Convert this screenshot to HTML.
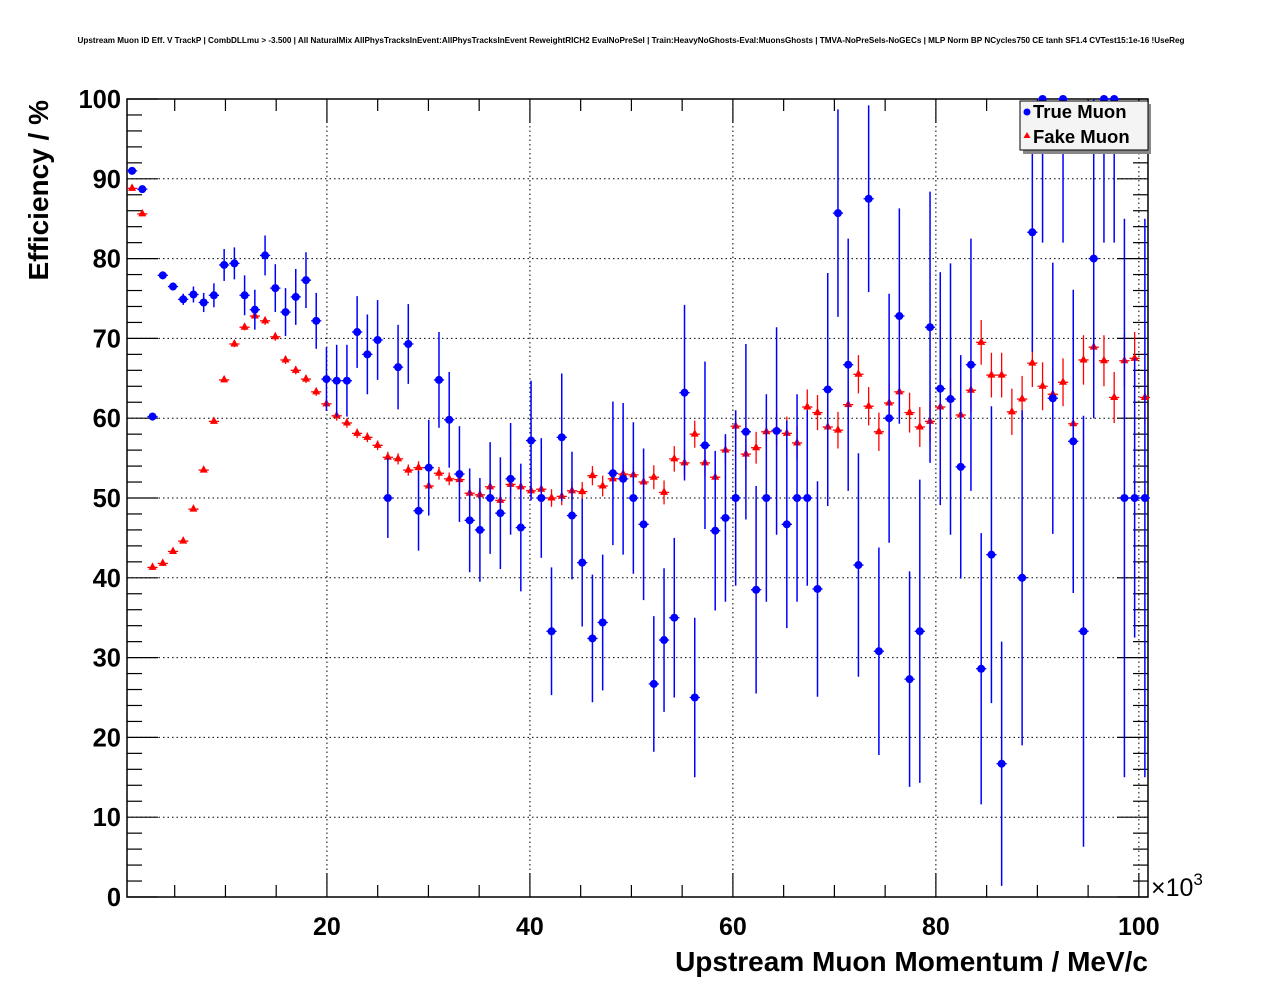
<!DOCTYPE html>
<html><head><meta charset="utf-8"><style>
html,body{margin:0;padding:0;background:#fff;}
svg{display:block;font-family:"Liberation Sans",Arial,sans-serif;}
</style></head><body>
<svg id="chart" width="1276" height="996" viewBox="0 0 1276 996" xmlns="http://www.w3.org/2000/svg">
<rect x="0" y="0" width="1276" height="996" fill="#fff"/>
<text x="631" y="43" font-size="8.15" font-weight="bold" text-anchor="middle" textLength="1107" lengthAdjust="spacingAndGlyphs">Upstream Muon ID Eff. V TrackP | CombDLLmu &gt; -3.500 | All NaturalMix AllPhysTracksInEvent:AllPhysTracksInEvent ReweightRICH2 EvalNoPreSel | Train:HeavyNoGhosts-Eval:MuonsGhosts | TMVA-NoPreSels-NoGECs | MLP Norm BP NCycles750 CE tanh SF1.4 CVTest15:1e-16 !UseReg</text>
<g id="grid"></g>
<g id="axes"></g>
<g id="marks"></g>
<text transform="translate(48,100) rotate(-90)" font-size="28" font-weight="bold" text-anchor="end">Efficiency / %</text>
<text x="1148" y="971" font-size="28" font-weight="bold" text-anchor="end">Upstream Muon Momentum / MeV/c</text>
<text x="1151" y="896" font-size="25" font-weight="normal">×10<tspan font-size="17" dy="-11">3</tspan></text>
<g>
<rect x="1023" y="104" width="128" height="50" fill="#888"/>
<rect x="1020" y="101" width="128" height="49" fill="#f4f4f4" stroke="#000" stroke-width="1"/>
<circle cx="1027" cy="112" r="3.5" fill="#0000ff"/>
<text x="1033" y="118" font-size="18.5" font-weight="bold">True Muon</text>
<polygon points="1027,132 1030.5,138 1023.5,138" fill="#ff0000"/>
<text x="1033" y="143" font-size="18.5" font-weight="bold">Fake Muon</text>
</g>
</svg>
<script>
const xTicks = [20, 40, 60, 80, 100];
const yTicks = [0, 10, 20, 30, 40, 50, 60, 70, 80, 90, 100];
const trueEff = [91.0,88.7,60.2,77.9,76.5,74.9,75.5,74.5,75.4,79.2,79.4,75.4,73.6,80.4,76.3,73.3,75.2,77.3,72.2,64.9,
64.7,64.7,70.8,68.0,69.8,50.0,66.4,69.3,48.4,53.8,64.8,59.8,53.0,47.2,46.0,50.0,48.1,52.4,46.3,57.2,
50.0,33.3,57.6,47.8,41.9,32.4,34.4,53.1,52.4,50.0,46.7,26.7,32.2,35.0,63.2,25.0,56.6,45.9,47.5,50.0,
58.3,38.5,50.0,58.4,46.7,50.0,50.0,38.6,63.6,85.7,66.7,41.6,87.5,30.8,60.0,72.8,27.3,33.3,71.4,63.7,
62.4,53.9,66.7,28.6,42.9,16.7,null,40.0,83.3,100,62.5,100,57.1,33.3,80.0,100,100,50.0,50.0,50.0];
const trueErr = [0.3,0.4,0.5,0.5,0.5,0.7,1.0,1.2,1.5,2.0,2.0,2.5,2.5,2.5,3.0,3.0,3.5,3.5,3.5,4.0,
4.5,4.5,4.5,5.0,5.0,5.0,5.3,5.0,5.0,6.0,6.0,6.0,6.0,6.5,6.5,7.0,7.0,7.0,8.0,7.5,
7.5,8.0,8.0,8.0,8.0,8.0,8.5,9.0,9.5,9.5,9.5,8.5,9.0,10.0,11.0,10.0,10.5,10.0,10.5,11.0,
11.0,13.0,13.0,13.0,13.0,13.0,11.0,13.5,14.6,13.0,15.8,14.0,11.7,13.0,15.6,13.5,13.5,19.0,17.0,14.6,
17.0,14.0,15.8,17.0,18.6,15.3,0,21.0,15.0,18.0,17.0,18.0,19.0,27.0,20.0,18.0,18.0,35.0,17.5,35.0];
const fakeEff = [88.8,85.6,41.3,41.8,43.3,44.6,48.6,53.5,59.6,64.8,69.3,71.4,72.8,72.2,70.2,67.3,66.0,64.9,63.3,61.8,
60.3,59.4,58.1,57.6,56.6,55.1,54.9,53.5,53.8,51.5,53.1,52.4,52.3,50.6,50.4,51.4,49.7,51.7,51.4,50.9,
51.1,50.0,50.2,50.9,50.8,52.8,51.5,52.4,53.0,52.9,52.0,52.6,50.7,54.9,54.4,58.0,54.4,52.6,56.0,59.0,
55.5,56.3,58.3,58.5,58.1,56.9,61.4,60.7,58.9,58.5,61.7,65.5,61.5,58.3,61.9,63.3,60.7,58.9,59.6,61.4,
62.4,60.4,63.5,69.5,65.4,65.4,60.8,62.4,66.9,64.0,63.0,64.5,59.3,67.3,68.9,67.2,62.6,67.2,67.5,62.6];
const fakeErr = [0.3,0.3,0.3,0.3,0.3,0.3,0.3,0.3,0.3,0.3,0.4,0.4,0.5,0.5,0.5,0.5,0.5,0.5,0.5,0.5,
0.6,0.6,0.6,0.6,0.6,0.7,0.7,0.7,0.8,0.8,0.8,0.8,0.8,0.9,0.9,0.9,0.9,1.0,1.0,1.0,
1.1,1.1,1.1,1.2,1.2,1.2,1.3,1.3,1.4,1.4,1.4,1.5,1.5,1.6,1.6,1.7,1.7,1.8,1.8,1.9,
1.9,2.0,2.0,2.0,2.1,2.1,2.2,2.2,2.2,2.3,2.3,2.4,2.4,2.4,2.5,2.5,2.5,2.5,2.6,2.6,
2.6,2.7,2.7,2.8,2.8,2.8,2.9,2.9,3.0,3.0,3.0,3.0,3.1,3.1,3.2,3.2,3.2,3.3,3.3,3.4];

const NS = "http://www.w3.org/2000/svg";
const L = 127, R = 1148, T = 99, B = 897;
const XMIN = 0.3, XMAX = 100.9, YMIN = 0, YMAX = 100;
const sx = v => L + (v - XMIN) / (XMAX - XMIN) * (R - L);
const sy = v => B - (v - YMIN) / (YMAX - YMIN) * (B - T);
const binCenter = i => 0.8 + 1.008 * i;
const halfBin = 0.5 * 1.008;

function mk(tag, attrs, parent) {
  const e = document.createElementNS(NS, tag);
  for (const k in attrs) e.setAttribute(k, attrs[k]);
  parent.appendChild(e);
  return e;
}
const grid = document.getElementById('grid');
const axes = document.getElementById('axes');
const marks = document.getElementById('marks');

xTicks.forEach(t => {
  const g = mk('line', {x1: sx(t), x2: sx(t), y1: T, y2: B, stroke: '#000', 'stroke-width': 1, 'stroke-dasharray': '1.5,3'}, grid);
  
  
});
yTicks.forEach(t => {
  const g = mk('line', {x1: L, x2: R, y1: sy(t), y2: sy(t), stroke: '#000', 'stroke-width': 1, 'stroke-dasharray': '1.5,3'}, grid);
  
  
});

const fr = mk('rect', {x: L, y: T, width: R - L, height: B - T, fill: 'none', stroke: '#000', 'stroke-width': 1.5}, axes);



for (let v = 5; v <= 100; v += 5) {
  const major = v % 20 === 0;
  const len = major ? 24 : 12;
  const t1 = mk('line', {x1: sx(v), x2: sx(v), y1: B, y2: B - len, stroke: '#000', 'stroke-width': 1.2}, axes);
  
  
  const t2 = mk('line', {x1: sx(v), x2: sx(v), y1: T, y2: T + len, stroke: '#000', 'stroke-width': 1.2}, axes);
  
  
}
xTicks.forEach(t => {
  const tx = mk('text', {x: sx(t), y: 935, 'font-size': 25, 'font-weight': 'bold', 'text-anchor': 'middle'}, axes);
  tx.textContent = String(t);
  
  
});
for (let v = 0; v <= 100; v += 2) {
  const major = v % 10 === 0;
  const len = major ? 31 : 15;
  const t1 = mk('line', {x1: L, x2: L + len, y1: sy(v), y2: sy(v), stroke: '#000', 'stroke-width': 1.2}, axes);
  
  
  const t2 = mk('line', {x1: R, x2: R - len, y1: sy(v), y2: sy(v), stroke: '#000', 'stroke-width': 1.2}, axes);
  
  
}
yTicks.forEach(t => {
  const tx = mk('text', {x: 121, y: sy(t) + 9, 'font-size': 25.5, 'font-weight': 'bold', 'text-anchor': 'end'}, axes);
  tx.textContent = String(t);
  
  
});

const clip = v => Math.max(YMIN, Math.min(YMAX, v));

fakeEff.forEach((v, i) => {
  if (v === null) return;
  const cx = sx(binCenter(i)), cy = sy(v);
  const g = mk('g', {}, marks);
  
  
  mk('line', {x1: sx(binCenter(i) - halfBin), x2: sx(binCenter(i) + halfBin), y1: cy, y2: cy, stroke: '#ff0000', 'stroke-width': 1.3}, g);
  mk('line', {x1: cx, x2: cx, y1: sy(clip(v - fakeErr[i])), y2: sy(clip(v + fakeErr[i])), stroke: '#ff0000', 'stroke-width': 1.3}, g);
  mk('polygon', {points: `${cx},${cy - 5} ${cx + 4},${cy + 2.5} ${cx - 4},${cy + 2.5}`, fill: '#ff0000'}, g);
});
trueEff.forEach((v, i) => {
  if (v === null) return;
  const cx = sx(binCenter(i)), cy = sy(v);
  const g = mk('g', {}, marks);
  
  
  mk('line', {x1: sx(binCenter(i) - halfBin), x2: sx(binCenter(i) + halfBin), y1: cy, y2: cy, stroke: '#0000ff', 'stroke-width': 1.3}, g);
  mk('line', {x1: cx, x2: cx, y1: sy(clip(v - trueErr[i])), y2: sy(clip(v + trueErr[i])), stroke: '#0000ff', 'stroke-width': 1.5}, g);
  mk('circle', {cx: cx, cy: cy, r: 4, fill: '#0000ff'}, g);
});
</script>
</body></html>
